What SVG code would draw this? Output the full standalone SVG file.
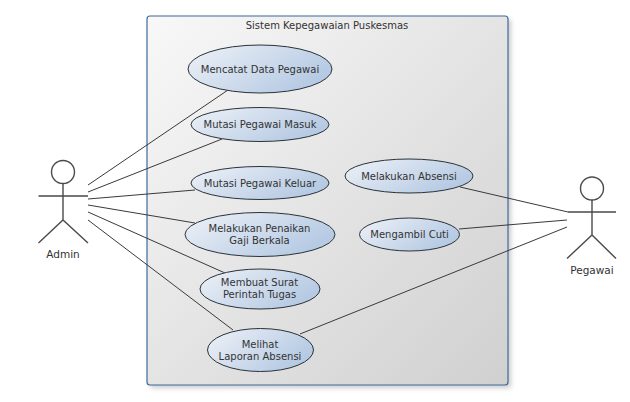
<svg xmlns="http://www.w3.org/2000/svg" width="630" height="402" viewBox="0 0 630 402">
<defs>
<linearGradient id="boxFill" x1="0" y1="0" x2="1" y2="1"><stop offset="0" stop-color="#f8f8f8"/><stop offset="1" stop-color="#d0d0d0"/></linearGradient>
<linearGradient id="ucFill" x1="0" y1="0" x2="1" y2="0.5"><stop offset="0" stop-color="#eef2f8"/><stop offset="1" stop-color="#b6cae3"/></linearGradient>
<filter id="shadow" x="-5%" y="-5%" width="110%" height="110%"><feGaussianBlur stdDeviation="2.5"/></filter>
</defs>
<style>
text{font-family:"DejaVu Sans",sans-serif;font-size:10px;fill:#333;text-anchor:middle}
.actor-label{font-size:10.5px}
.uc{fill:url(#ucFill);stroke:#2a3238;stroke-width:1}
.act{fill:none;stroke:#4a4a4a;stroke-width:1.4}
.con{fill:none;stroke:#3a3a3a;stroke-width:1}
</style>
<rect width="630" height="402" fill="#fff"/>
<g id="system">
<rect x="150" y="19" width="361" height="369" rx="3" fill="#9a9a9a" opacity=".5" filter="url(#shadow)"/>
<rect x="147" y="16" width="361" height="369" rx="3" fill="url(#boxFill)" stroke="#3f6b9c" stroke-width="1.2"/>
<text x="327" y="29">Sistem Kepegawaian Puskesmas</text>
</g>
<g id="connectors" class="connectors">
<line class="con" x1="88" y1="185" x2="228" y2="90"/>
<line class="con" x1="88" y1="192" x2="222" y2="139"/>
<line class="con" x1="88" y1="199" x2="195" y2="190"/>
<line class="con" x1="88" y1="205" x2="195" y2="223"/>
<line class="con" x1="88" y1="212" x2="225" y2="273"/>
<line class="con" x1="88" y1="220" x2="233" y2="330"/>
<line class="con" x1="460" y1="187" x2="568" y2="212"/>
<line class="con" x1="459" y1="229" x2="567" y2="220"/>
<line class="con" x1="300" y1="334" x2="567" y2="227"/>
</g>
<g id="uc-mencatat"><ellipse class="uc" cx="260" cy="69" rx="72" ry="24"/><text x="260" y="72.500">Mencatat Data Pegawai</text></g>
<g id="uc-masuk"><ellipse class="uc" cx="260" cy="124.500" rx="69" ry="17"/><text x="260" y="128">Mutasi Pegawai Masuk</text></g>
<g id="uc-keluar"><ellipse class="uc" cx="260" cy="183" rx="69" ry="16.500"/><text x="260" y="187">Mutasi Pegawai Keluar</text></g>
<g id="uc-penaikan"><ellipse class="uc" cx="260" cy="234.500" rx="75" ry="22"/><text x="259.500" y="232">Melakukan Penaikan</text><text x="259.500" y="243.500">Gaji Berkala</text></g>
<g id="uc-surat"><ellipse class="uc" cx="260" cy="289" rx="60" ry="20"/><text x="259.500" y="286">Membuat Surat</text><text x="259.500" y="298">Perintah Tugas</text></g>
<g id="uc-laporan"><ellipse class="uc" cx="260.500" cy="350" rx="53" ry="21.500"/><text x="260" y="348">Melihat</text><text x="260" y="359.500">Laporan Absensi</text></g>
<g id="uc-absensi"><ellipse class="uc" cx="409" cy="176" rx="64" ry="17"/><text x="409" y="179.500">Melakukan Absensi</text></g>
<g id="uc-cuti"><ellipse class="uc" cx="409.500" cy="234.500" rx="50" ry="16.500"/><text x="409.500" y="238">Mengambil Cuti</text></g>
<g id="actor-admin">
<circle class="act" cx="63" cy="172" r="11.500"/>
<path class="act" d="M63 183.500V220M38.500 196H88M38.500 243L63 220L88 243"/>
<text class="actor-label" x="63" y="258">Admin</text>
</g>
<g id="actor-pegawai">
<circle class="act" cx="592" cy="188.500" r="11.500"/>
<path class="act" d="M592 200V235M568 212H616M567 258.500L592 235L616 258.500"/>
<text class="actor-label" x="592" y="274">Pegawai</text>
</g>
</svg>
